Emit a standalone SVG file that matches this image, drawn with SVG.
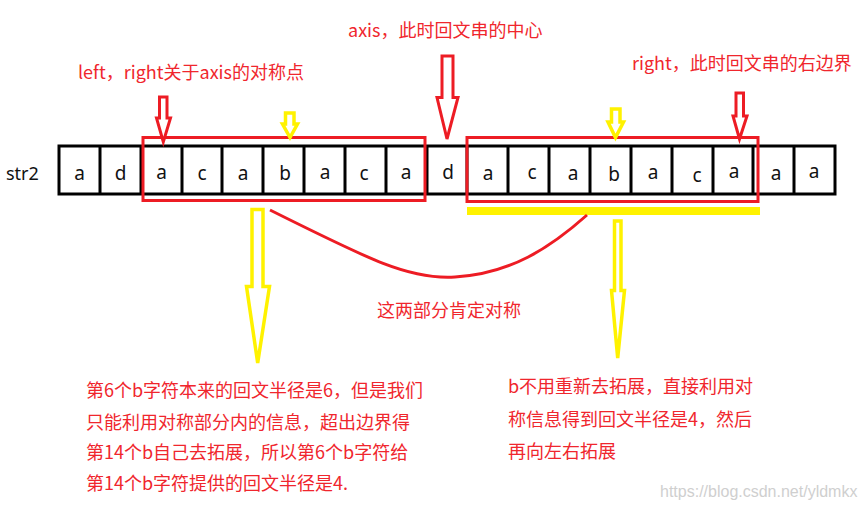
<svg xmlns="http://www.w3.org/2000/svg" width="864" height="510" viewBox="0 0 864 510">
<style>
.t{font-family:"Noto Sans CJK SC","Noto Sans",sans-serif;font-size:18px;fill:#f0262d}
.cell{fill:#fff;stroke:#000;stroke-width:3}
.ch{font-family:"Noto Sans","Noto Sans CJK SC",sans-serif;font-size:19px;fill:#111;text-anchor:middle}
.rbox{fill:none;stroke:#ED1C24;stroke-width:3}
.ra{fill:#fff;stroke:#ED1C24;stroke-width:3;stroke-linejoin:miter}
.ya{fill:#fff;stroke:#FFF200;stroke-width:3.5;stroke-linejoin:miter}
</style>
<rect width="864" height="510" fill="#fff"/>
<g id="label-str2"><text x="6" y="180" style="font-family:'Noto Sans',sans-serif;font-size:18px;fill:#111">str2</text></g>
<g id="array">
<rect class="cell" x="59" y="146" width="776" height="48"/>
<path d="M100,146V194M141,146V194M182,146V194M222,146V194M263,146V194M304,146V194M345,146V194M386,146V194M427,146V194M467,146V194M508,146V194M549,146V194M590,146V194M631,146V194M672,146V194M713,146V194M753,146V194M794,146V194" stroke="#000" stroke-width="3"/>
<text class="ch" x="79.5" y="180">a</text>
<text class="ch" x="120.5" y="180">d</text>
<text class="ch" x="161.5" y="179">a</text>
<text class="ch" x="202" y="180">c</text>
<text class="ch" x="243" y="180">a</text>
<text class="ch" x="285" y="180">b</text>
<text class="ch" x="325" y="179">a</text>
<text class="ch" x="364" y="180">c</text>
<text class="ch" x="406" y="179">a</text>
<text class="ch" x="448" y="179">d</text>
<text class="ch" x="488" y="180">a</text>
<text class="ch" x="532" y="179">c</text>
<text class="ch" x="573" y="180">a</text>
<text class="ch" x="614" y="181">b</text>
<text class="ch" x="653" y="179">a</text>
<text class="ch" x="697" y="182">c</text>
<text class="ch" x="734" y="178">a</text>
<text class="ch" x="776" y="180">a</text>
<text class="ch" x="814" y="178">a</text>
</g>
<g id="left-box"><rect class="rbox" x="143" y="137.5" width="282" height="63"/></g>
<g id="right-box"><rect class="rbox" x="467" y="137.5" width="291" height="64"/></g>
<g id="yellow-bar"><rect x="467" y="207" width="293" height="8" fill="#FFF200"/></g>
<g id="connectors">
<polygon class="ra" points="159.5,97 167,97 167,118 170.5,118 163.3,142 156.5,118 159.5,118"/>
<polygon class="ra" points="442,56 453,56 453,97.5 458,97.5 447,139 437,97.5 442,97.5"/>
<polygon class="ra" points="736,93 743.5,93 743.5,116 747,116 739.5,139 733,116 736,116"/>
<polygon class="ya" points="285.5,113 294,113 294,124 297.5,124 290,137.5 282.5,124 285.5,124"/>
<polygon class="ya" points="611.5,109 620,109 620,122 623.5,122 615.5,137.5 608,122 611.5,122"/>
<polygon class="ya" points="252,209.5 263,209.5 263,286.5 269.5,286.5 257.7,363 246.5,286.5 252,286.5"/>
<polygon class="ya" points="614.5,221 621,221 621,290.5 624.5,290.5 617.7,358 611.5,290.5 614.5,290.5"/>
<path d="M270,210 C370,260 410,280 455,277 C510,274 550,248 587,215" fill="none" stroke="#ED1C24" stroke-width="3"/>
</g>
<g id="label-left"><text class="t" x="78" y="79">left，right关于axis的对称点</text></g>
<g id="label-axis"><text class="t" x="348" y="37">axis，此时回文串的中心</text></g>
<g id="label-right"><text class="t" x="632" y="70">right，此时回文串的右边界</text></g>
<g id="label-sym"><text class="t" x="377" y="317">这两部分肯定对称</text></g>
<g id="note-left">
<text class="t" x="86" y="397">第6个b字符本来的回文半径是6，但是我们</text>
<text class="t" x="86" y="428.5">只能利用对称部分内的信息，超出边界得</text>
<text class="t" x="86" y="459">第14个b自己去拓展，所以第6个b字符给</text>
<text class="t" x="86" y="490">第14个b字符提供的回文半径是4.</text>
</g>
<g id="note-right">
<text class="t" x="508" y="393">b不用重新去拓展，直接利用对</text>
<text class="t" x="508" y="426">称信息得到回文半径是4，然后</text>
<text class="t" x="508" y="458">再向左右拓展</text>
</g>
<g id="watermark"><text x="660" y="497" style="font-family:'Liberation Sans',Arial,sans-serif;font-size:16px;fill:#cfcfcf">https://blog.csdn.net/yldmkx</text></g>
</svg>
